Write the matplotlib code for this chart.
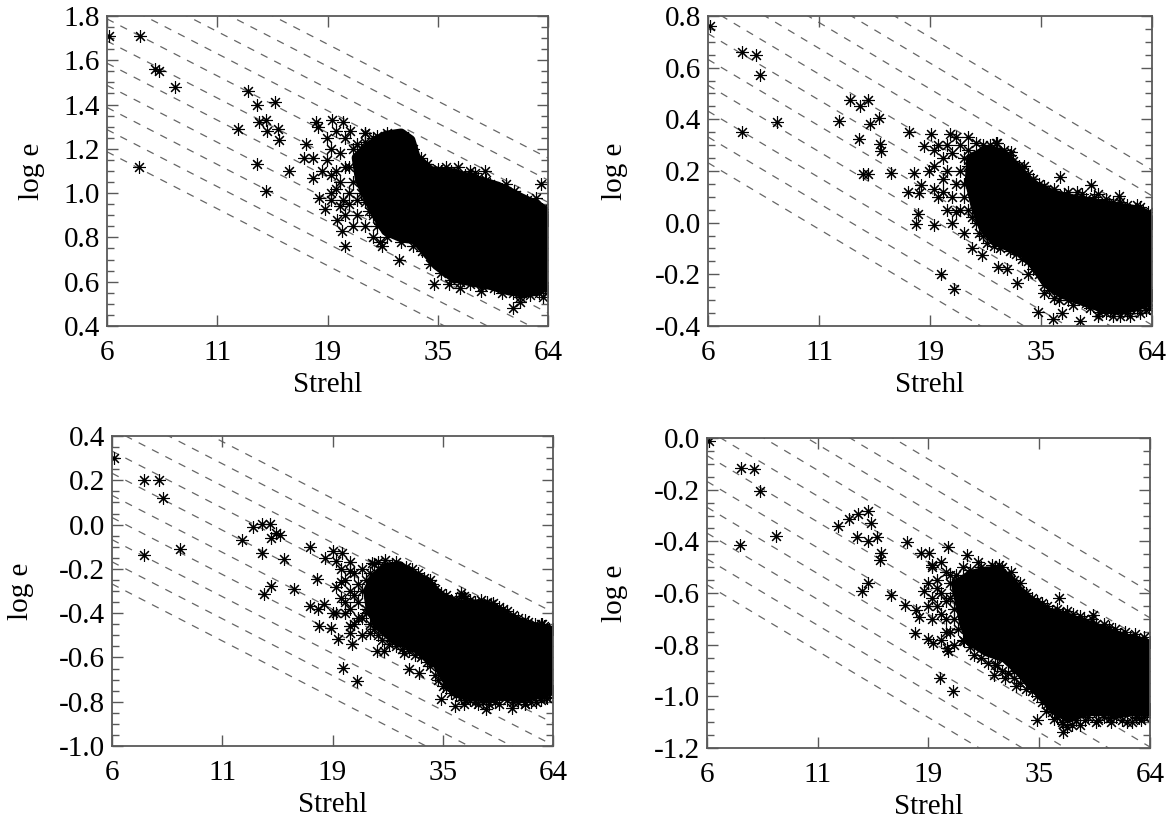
import numpy as np
import matplotlib
matplotlib.use("Agg")
import matplotlib.pyplot as plt
from matplotlib.ticker import MultipleLocator, FormatStrFormatter, FixedLocator, NullLocator

plt.rcParams["font.family"] = ["Liberation Serif", "DejaVu Serif"]
plt.rcParams["axes.unicode_minus"] = False

# x axis (Strehl, log scale)
strehl_lim = (6.0, 64.0)
strehl_tick_labels = ["6", "11", "19", "35", "64"]

# ---------------- panel 1 ----------------
strehl_1 = [6.05, 7.15, 7.75, 7.94, 8.66, 7.13, 12.8, 13.4, 14.8, 12.1, 13.6, 14.1, 14.2, 15.0, 15.1,
            13.4, 14.1, 15.9, 18.4, 18.6, 20.1, 21.3, 17.5, 18.1, 17.3, 18.1, 18.7, 19.3, 20.6, 21.2,
            21.5, 26.2, 28.7, 33.1, 34.8, 37.7, 40.0, 44.6, 52.9, 55.0, 62.2, 57.3, 53.4, 45.6, 43.3,
            39.5, 35.5, 32.4, 30.3, 27.7, 24.0, 22.1, 61.6, 20.0, 21.3,
            23.5, 25.0, 27.0, 28.5, 26.0, 30.0, 32.0, 33.0, 36.0, 38.0, 41.0, 44.0, 47.0, 50.0, 52.0,
            56.0, 59.0, 62.0, 63.0,
            63.0, 61.0, 58.0, 55.0, 53.0, 50.0, 48.0, 45.0, 42.0, 40.0, 38.0, 36.0, 34.0, 32.5, 31.0,
            29.0, 27.0, 25.5, 24.5, 23.5,
            19.5, 20.0, 20.5, 21.0, 21.5, 22.0, 22.5, 21.0, 20.0, 22.0, 23.0, 21.5, 23.0, 24.0, 22.5,
            20.5, 24.0, 25.0, 26.0,
            24.0, 25.5, 27.5, 29.5, 31.0, 33.5, 35.0, 37.0, 39.0, 42.0, 43.0, 46.0, 48.0, 51.0, 54.0,
            57.0, 60.0, 61.0, 64.0,
            64.0, 62.0, 59.5, 57.0, 54.0, 51.0, 49.0, 46.5, 43.5, 41.0, 39.0, 37.0, 35.0, 33.5, 32.0,
            30.0, 28.0, 26.0, 25.0, 24.0,
            20.5, 21.5, 22.5, 23.0, 22.0, 23.5, 24.5, 20.0, 21.0, 19.0, 19.5]
loge_1 = [1.71, 1.71, 1.56, 1.55, 1.48, 1.12, 1.46, 1.40, 1.41, 1.29, 1.32, 1.33, 1.28, 1.29, 1.24,
          1.13, 1.01, 1.10, 1.32, 1.30, 1.33, 1.32, 1.22, 1.16, 1.16, 1.07, 0.98, 0.93, 0.88, 0.83,
          0.76, 0.76, 0.70, 0.74, 0.59, 0.59, 0.57, 0.56, 0.48, 0.51, 0.53, 0.97, 1.01, 1.10, 1.09,
          1.12, 1.11, 1.16, 1.22, 1.25, 1.27, 1.28, 1.04, 0.97, 0.97,
          1.20, 1.25, 1.27, 1.25, 1.18, 1.20, 1.15, 1.12, 1.10, 1.10, 1.08, 1.07, 1.04, 1.02, 1.00,
          0.97, 0.95, 0.93, 0.90,
          0.58, 0.55, 0.54, 0.53, 0.55, 0.55, 0.57, 0.58, 0.59, 0.60, 0.61, 0.64, 0.68, 0.74, 0.76,
          0.78, 0.80, 0.85, 0.92, 1.00,
          1.15, 1.20, 1.10, 1.18, 1.25, 1.12, 1.05, 1.05, 1.00, 0.95, 0.90, 0.90, 1.22, 0.85, 0.85,
          1.28, 1.27, 0.80, 0.78,
          1.23, 1.26, 1.22, 1.26, 1.20, 1.13, 1.08, 1.12, 1.06, 1.10, 1.04, 1.06, 1.00, 1.04, 0.99,
          0.95, 0.98, 0.92, 0.88,
          0.56, 0.60, 0.57, 0.56, 0.57, 0.58, 0.60, 0.60, 0.62, 0.63, 0.64, 0.66, 0.72, 0.77, 0.80,
          0.81, 0.83, 0.86, 0.90, 0.96,
          1.02, 1.12, 1.20, 0.97, 1.00, 1.10, 1.05, 1.08, 0.94, 1.10, 1.25]
core_strehl_1 = [22.9, 24.8, 26.8, 29.1, 30.6, 31.5, 34.1, 38.5, 43.3, 48.9, 55.1, 60.9, 64.0, 64.0,
                 60.9, 56.2, 51.9, 46.9, 42.5, 38.5, 35.5, 33.4, 31.5, 29.1, 26.8, 25.3, 24.3, 23.3]
core_loge_1 = [1.16, 1.22, 1.26, 1.27, 1.24, 1.16, 1.10, 1.09, 1.06, 1.03, 0.98, 0.94, 0.91, 0.59,
               0.56, 0.55, 0.56, 0.585, 0.60, 0.62, 0.67, 0.73, 0.79, 0.80, 0.83, 0.91, 0.98, 1.06]
lines_1 = [1.965, 2.065, 2.165, 2.265, 2.365, 2.465, 2.565, 2.665, 2.765, 2.865, 2.965]
ylim_1 = (0.4, 1.8)

# ---------------- panel 2 ----------------
strehl_2 = [6.05, 7.18, 7.75, 7.93, 7.18, 8.68, 12.8, 13.5, 14.1, 12.06, 14.2, 14.9, 13.4, 15.0, 15.1,
            13.7, 14.1, 15.9, 17.5, 17.4, 18.0, 18.5, 18.7, 19.0, 19.7, 21.8, 18.2, 20.0, 18.4, 20.8,
            22.3, 25.8, 28.2, 29.6, 31.1, 33.0, 34.9, 35.9, 37.8, 39.6, 43.5, 48.2, 51.2, 54.3, 61.6,
            53.8, 46.3, 39.1, 32.3, 27.9, 24.0, 30.2, 58.3,
            23.0, 25.0, 27.0, 29.0, 30.5, 32.0, 34.0, 36.0, 38.0, 41.0, 44.0, 47.0, 50.0, 52.0, 56.0,
            60.0, 62.5,
            63.0, 60.0, 57.0, 54.0, 50.0, 46.0, 42.0, 39.0, 37.0, 35.0, 33.0, 31.0, 28.5, 26.5, 25.5,
            24.5, 23.5,
            20.5, 21.0, 21.5, 22.0, 20.0, 22.5, 21.0, 23.0, 22.0, 21.5, 23.5, 24.5, 20.5, 19.5, 22.5,
            23.5,
            24.0, 26.0, 28.0, 30.0, 31.5, 33.0, 35.0, 37.0, 40.0, 43.0, 45.0, 48.0, 51.0, 54.0, 57.0,
            59.0, 61.0, 64.0,
            64.0, 62.0, 59.0, 56.0, 52.0, 48.0, 45.0, 41.0, 38.0, 36.0, 34.0, 32.0, 30.0, 27.5, 26.0,
            25.0, 24.0, 23.5,
            20.0, 21.0, 22.0, 23.0, 22.5, 21.5, 24.0, 20.0]
loge_2 = [0.76, 0.66, 0.65, 0.57, 0.35, 0.39, 0.475, 0.453, 0.476, 0.395, 0.382, 0.405, 0.324, 0.305,
          0.279, 0.189, 0.189, 0.193, 0.352, 0.118, 0.192, 0.116, 0.144, 0.298, 0.343, 0.343, -0.004,
          -0.01, 0.035, -0.197, -0.255, -0.126, -0.171, -0.181, -0.233, -0.197, -0.345, -0.274,
          -0.374, -0.351, -0.379, -0.345, -0.338, -0.338, -0.312, 0.102, 0.144, 0.176, 0.219, 0.307,
          0.331, 0.273, 0.048,
          0.30, 0.31, 0.30, 0.28, 0.24, 0.20, 0.17, 0.14, 0.13, 0.12, 0.11, 0.10, 0.09, 0.08, 0.07,
          0.06, 0.04,
          -0.33, -0.35, -0.36, -0.36, -0.35, -0.33, -0.32, -0.30, -0.26, -0.20, -0.15, -0.12, -0.10,
          -0.08, -0.04, 0.02, 0.10,
          0.30, 0.25, 0.20, 0.27, 0.22, 0.15, 0.12, 0.05, 0.00, 0.05, -0.04, -0.10, 0.10, 0.20, 0.33,
          0.25,
          0.28, 0.30, 0.31, 0.26, 0.22, 0.19, 0.15, 0.12, 0.11, 0.12, 0.09, 0.11, 0.07, 0.08, 0.05,
          0.07, 0.04, 0.00,
          -0.28, -0.34, -0.33, -0.35, -0.36, -0.36, -0.31, -0.30, -0.29, -0.24, -0.18, -0.14, -0.11,
          -0.09, -0.05, 0.00, 0.05, 0.15,
          0.28, 0.17, 0.10, 0.20, 0.04, 0.30, 0.22, 0.13]
core_strehl_2 = [24.4, 26.5, 28.7, 31.1, 33.0, 35.8, 39.5, 43.6, 48.2, 53.3, 58.8, 64.0, 64.0, 58.8,
                 53.3, 48.2, 43.6, 39.5, 36.5, 34.4, 32.4, 29.9, 27.6, 26.0, 25.0, 24.2]
core_loge_2 = [0.25, 0.28, 0.27, 0.215, 0.16, 0.125, 0.10, 0.086, 0.073, 0.06, 0.048, 0.022, -0.30,
               -0.325, -0.338, -0.325, -0.30, -0.274, -0.235, -0.171, -0.12, -0.094, -0.068, -0.017,
               0.06, 0.16]
lines_2 = [1.01, 1.11, 1.21, 1.31, 1.41, 1.51, 1.61, 1.71, 1.81, 1.91, 2.01]
ylim_2 = (-0.4, 0.8)

# ---------------- panel 3 ----------------
strehl_3 = [6.05, 7.13, 7.72, 7.91, 7.13, 8.66, 12.08, 12.8, 13.4, 14.0, 14.1, 14.5, 14.8, 13.4, 15.1,
            13.6, 14.1, 15.9, 17.4, 18.8, 19.6, 20.0, 20.6, 17.4, 18.1, 18.7, 18.0, 18.2, 19.4, 19.6,
            20.2, 20.7, 22.3, 21.8, 21.5, 24.0, 24.2, 24.9, 25.9, 28.7, 29.6, 31.1, 31.1, 27.0, 35.1,
            36.1, 37.9, 39.6, 42.9, 44.6, 51.3, 55.1, 62.1, 46.4, 39.6, 39.1, 27.6, 60.4,
            23.0, 24.5, 26.0, 27.5, 29.0, 31.0, 33.0, 34.0, 36.0, 38.0, 40.0, 42.0, 45.0, 48.0, 50.0,
            53.0, 56.0, 60.0, 62.5,
            63.0, 60.0, 57.0, 53.0, 50.0, 47.0, 44.0, 41.0, 39.0, 37.0, 35.5, 34.0, 32.5, 30.5, 28.5,
            26.5, 25.0, 24.0, 23.5, 23.0,
            20.5, 21.0, 21.5, 22.0, 22.5, 21.0, 22.0, 20.5, 21.5, 23.0, 22.5, 21.5, 20.0, 23.0,
            24.0, 25.0, 27.0, 28.5, 30.0, 32.0, 33.5, 35.0, 37.0, 39.0, 41.0, 43.5, 46.0, 49.0, 51.5,
            55.0, 58.0, 61.0, 64.0,
            64.0, 61.5, 58.5, 55.0, 51.5, 48.0, 45.5, 42.0, 40.0, 38.0, 36.0, 34.5, 33.0, 31.5, 29.5,
            27.5, 25.5, 24.5, 23.5,
            20.5, 21.5, 22.0, 22.5, 23.5, 21.0, 20.0, 21.5]
loge_3 = [0.30, 0.20, 0.20, 0.12, -0.137, -0.112, -0.071, -0.011, 0.004, 0.001, -0.059, -0.037,
          -0.049, -0.127, -0.157, -0.315, -0.277, -0.292, -0.101, -0.149, -0.119, -0.165, -0.127,
          -0.368, -0.383, -0.36, -0.247, -0.458, -0.469, -0.398, -0.518, -0.649, -0.706, -0.541,
          -0.488, -0.488, -0.172, -0.571, -0.571, -0.578, -0.654, -0.669, -0.571, -0.526, -0.789,
          -0.722, -0.819, -0.812, -0.812, -0.834, -0.827, -0.812, -0.782, -0.353, -0.323, -0.323,
          -0.195, -0.45,
          -0.20, -0.18, -0.16, -0.17, -0.19, -0.22, -0.25, -0.29, -0.32, -0.34, -0.33, -0.35, -0.35,
          -0.37, -0.39, -0.42, -0.44, -0.45, -0.47,
          -0.76, -0.79, -0.80, -0.80, -0.79, -0.80, -0.80, -0.79, -0.78, -0.76, -0.73, -0.68, -0.62,
          -0.59, -0.56, -0.54, -0.50, -0.45, -0.38, -0.30,
          -0.20, -0.25, -0.30, -0.22, -0.35, -0.40, -0.45, -0.33, -0.38, -0.50, -0.27, -0.17, -0.28,
          -0.42,
          -0.22, -0.17, -0.18, -0.20, -0.20, -0.24, -0.27, -0.31, -0.34, -0.31, -0.34, -0.34, -0.36,
          -0.38, -0.41, -0.43, -0.45, -0.46, -0.47,
          -0.75, -0.78, -0.80, -0.81, -0.80, -0.81, -0.81, -0.80, -0.79, -0.77, -0.74, -0.70, -0.64,
          -0.60, -0.57, -0.55, -0.52, -0.47, -0.40,
          -0.26, -0.21, -0.32, -0.42, -0.25, -0.35, -0.40, -0.46]
core_strehl_3 = [24.5, 26.0, 28.1, 29.9, 32.4, 35.1, 38.8, 42.9, 46.4, 50.3, 54.5, 59.1, 64.0, 64.0,
                 59.1, 54.5, 49.3, 44.6, 41.2, 38.0, 35.8, 34.4, 31.7, 29.3, 27.0, 24.9, 24.0, 23.7]
core_loge_3 = [-0.24, -0.195, -0.187, -0.225, -0.255, -0.33, -0.36, -0.36, -0.375, -0.42, -0.45,
               -0.466, -0.481, -0.737, -0.767, -0.782, -0.774, -0.782, -0.774, -0.752, -0.691,
               -0.631, -0.571, -0.541, -0.511, -0.45, -0.375, -0.30]
lines_3 = [0.51, 0.61, 0.71, 0.81, 0.91, 1.01, 1.11, 1.21, 1.31, 1.41]
ylim_3 = (-1.0, 0.4)

# ---------------- panel 4 ----------------
strehl_4 = [6.05, 7.18, 7.73, 7.97, 7.14, 8.69, 12.08, 12.83, 13.47, 14.2, 14.4, 13.4, 14.2, 14.9, 15.2,
            15.1, 13.7, 14.2, 16.0, 17.5, 17.3, 18.3, 18.2, 18.6, 19.1, 18.8, 19.6, 20.0, 19.5, 20.1,
            20.8, 22.3, 21.8, 24.1, 21.6, 21.8, 23.7, 27.8, 29.5, 31.0, 31.2, 28.3, 34.9, 36.7, 38.4,
            40.2, 40.2, 42.2, 45.3, 48.6, 51.6, 60.3, 39.4, 40.2, 52.6, 47.1, 28.6, 24.1, 22.7,
            22.0, 23.5, 25.5, 27.5, 29.0, 30.5, 32.0, 33.0, 35.0, 37.0, 39.0, 41.0, 44.0, 47.0, 50.0,
            53.0, 56.0, 59.0, 62.0,
            63.0, 61.0, 58.0, 55.0, 52.0, 48.0, 44.0, 41.0, 39.0, 37.0, 35.0, 33.0, 31.0, 29.0, 27.0,
            25.0, 23.5, 22.5, 22.0,
            20.0, 20.5, 21.0, 21.5, 20.5, 21.5, 22.0, 20.0, 21.0, 19.5, 22.5, 21.0,
            23.0, 24.5, 26.0, 28.0, 29.5, 31.0, 32.5, 34.0, 36.0, 38.0, 40.0, 42.5, 45.0, 48.0, 51.5,
            54.5, 57.5, 60.5, 64.0,
            64.0, 62.0, 59.5, 56.5, 53.5, 50.0, 46.0, 43.0, 40.0, 38.0, 36.0, 34.0, 32.0, 30.0, 28.0,
            26.0, 24.5, 23.0, 22.5,
            20.5, 21.5, 22.0, 21.0, 20.0, 22.5, 21.5, 19.5]
loge_4 = [-0.01, -0.116, -0.119, -0.206, -0.413, -0.381, -0.339, -0.313, -0.293, -0.281, -0.329,
          -0.384, -0.40, -0.384, -0.445, -0.473, -0.593, -0.561, -0.606, -0.404, -0.648, -0.664,
          -0.755, -0.694, -0.593, -0.445, -0.445, -0.49, -0.778, -0.793, -0.929, -0.98, -0.423,
          -0.452, -0.813, -0.826, -0.787, -0.916, -0.929, -0.903, -0.961, -0.877, -1.09, -1.058,
          -1.086, -1.109, -1.138, -1.112, -1.09, -1.09, -1.084, -1.084, -0.619, -0.677, -0.755,
          -0.684, -0.493, -0.561, -0.529,
          -0.53, -0.50, -0.48, -0.49, -0.50, -0.52, -0.56, -0.60, -0.63, -0.65, -0.66, -0.67, -0.69,
          -0.70, -0.72, -0.74, -0.75, -0.76, -0.77,
          -1.07, -1.09, -1.10, -1.09, -1.10, -1.10, -1.11, -1.12, -1.08, -1.03, -1.00, -0.97, -0.93,
          -0.90, -0.87, -0.84, -0.78, -0.70, -0.62,
          -0.50, -0.55, -0.60, -0.52, -0.65, -0.70, -0.75, -0.62, -0.48, -0.56, -0.80, -0.78,
          -0.55, -0.51, -0.50, -0.50, -0.53, -0.55, -0.60, -0.62, -0.64, -0.67, -0.68, -0.68, -0.70,
          -0.72, -0.73, -0.76, -0.77, -0.78, -0.79,
          -1.05, -1.08, -1.08, -1.10, -1.08, -1.08, -1.08, -1.09, -1.10, -1.06, -1.02, -0.98, -0.95,
          -0.91, -0.88, -0.85, -0.81, -0.74, -0.66,
          -0.58, -0.63, -0.56, -0.68, -0.70, -0.60, -0.75, -0.65]
core_strehl_4 = [22.7, 24.6, 26.7, 28.3, 30.1, 31.3, 33.9, 36.7, 41.4, 45.7, 50.5, 55.8, 60.5, 64.0,
                 64.0, 59.3, 54.8, 50.5, 45.7, 41.4, 38.2, 36.0, 33.9, 31.9, 29.5, 26.7, 24.6, 23.7,
                 23.2]
core_loge_4 = [-0.568, -0.529, -0.516, -0.516, -0.542, -0.581, -0.632, -0.671, -0.697, -0.722, -0.748,
               -0.774, -0.787, -0.80, -1.058, -1.058, -1.064, -1.058, -1.058, -1.084, -1.045, -0.993,
               -0.955, -0.903, -0.851, -0.826, -0.787, -0.722, -0.645]
lines_4 = [0.21, 0.31, 0.41, 0.51, 0.61, 0.71, 0.81, 0.91, 1.01, 1.11, 1.21]
ylim_4 = (-1.2, 0.0)

panels = [
    (strehl_1, loge_1, core_strehl_1, core_loge_1, lines_1, ylim_1),
    (strehl_2, loge_2, core_strehl_2, core_loge_2, lines_2, ylim_2),
    (strehl_3, loge_3, core_strehl_3, core_loge_3, lines_3, ylim_3),
    (strehl_4, loge_4, core_strehl_4, core_loge_4, lines_4, ylim_4),
]

# axes rectangles in pixels: left, right, top, bottom
W, H = 1166, 823
boxes = [(107, 548, 16, 326), (708, 1152, 16, 326), (112, 553, 436, 746), (707, 1150, 438, 748)]
ylab_x = [-0.14, -0.18, -0.177, -0.178]
xlab_y = [-0.15, -0.15, -0.15, -0.15]

fig = plt.figure(figsize=(W / 100, H / 100), dpi=100)
axis_grey = "0.35"

for (sx, ly, cx, cy, lines, ylim), (l, r, t, b), yl, xl in zip(panels, boxes, ylab_x, xlab_y):
    ax = fig.add_axes([l / W, 1 - b / H, (r - l) / W, (b - t) / H])
    ax.set_xscale("log")
    ax.set_xlim(*strehl_lim)
    ax.set_ylim(*ylim)

    # constant e*Strehl reference lines
    xs = np.array(strehl_lim)
    for c in lines:
        ax.plot(xs, c - np.log10(xs), color="0.4", lw=0.9, dashes=(6, 6), zorder=1)

    # dense core of the cloud, edge widened so it meets the outer asterisks
    ax.fill(cx, cy, facecolor="black", edgecolor="black", lw=7, joinstyle="round", zorder=2)
    ax.plot(sx, ly, ls="none", marker=(8, 2, 0), ms=9, mew=0.8, color="black", zorder=3)

    ticks = np.geomspace(strehl_lim[0], strehl_lim[1], len(strehl_tick_labels))
    ax.xaxis.set_major_locator(FixedLocator(ticks))
    ax.xaxis.set_minor_locator(NullLocator())
    ax.set_xticklabels(strehl_tick_labels)
    ax.yaxis.set_major_locator(MultipleLocator(0.2))
    ax.yaxis.set_minor_locator(MultipleLocator(0.05))
    ax.yaxis.set_major_formatter(FormatStrFormatter("%.1f"))

    ax.tick_params(which="both", direction="in", top=True, right=True, colors=axis_grey,
                   labelcolor="black", labelsize=21)
    ax.tick_params(which="major", length=8, width=1.0)
    ax.tick_params(which="minor", length=5, width=1.0)
    ax.tick_params(axis="x", pad=10)
    ax.tick_params(axis="y", pad=5)
    for sp in ax.spines.values():
        sp.set_color(axis_grey)
        sp.set_linewidth(1.3)
        sp.set_zorder(4)

    ax.set_xlabel("Strehl", fontsize=21)
    ax.set_ylabel("log e", fontsize=21)
    ax.xaxis.set_label_coords(0.5, xl)
    ax.yaxis.set_label_coords(yl, 0.5)

fig.savefig("out.png", dpi=100)
